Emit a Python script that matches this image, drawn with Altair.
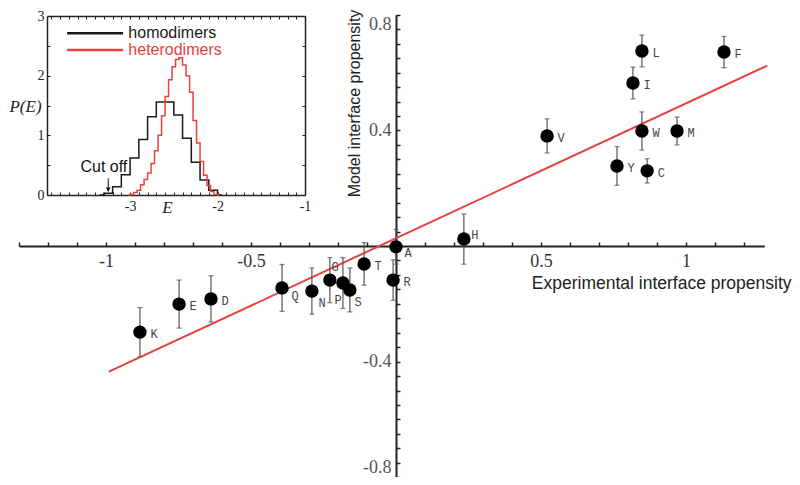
import altair as alt
import pandas as pd

# ---------------- data ----------------
RESIDUES = ["K", "E", "D", "Q", "N", "G", "P", "S", "T", "A",
            "R", "H", "V", "Y", "I", "L", "W", "C", "M", "F"]
EXPERIMENTAL = [-0.883, -0.748, -0.638, -0.393, -0.290, -0.228, -0.183, -0.159, -0.110, 0.000,
                -0.010, 0.234, 0.521, 0.762, 0.817, 0.848, 0.848, 0.866, 0.969, 1.131]
MODEL = [-0.298, -0.201, -0.183, -0.145, -0.156, -0.118, -0.128, -0.152, -0.062, -0.003,
         -0.118, 0.024, 0.381, 0.277, 0.564, 0.675, 0.398, 0.260, 0.398, 0.671]
ERROR = [0.085, 0.083, 0.080, 0.081, 0.080, 0.078, 0.088, 0.076, 0.074, 0.060,
         0.070, 0.087, 0.059, 0.067, 0.055, 0.055, 0.066, 0.042, 0.048, 0.054]

FIT_X = [-0.99, 1.28]
FIT_Y = [-0.435, 0.624]

HOMO_E = [-3.35, -3.25, -3.15, -3.05, -2.95, -2.85, -2.75, -2.65, -2.55, -2.45,
          -2.35, -2.25, -2.15, -2.05, -1.95]
HOMO_P = [0.0, 0.03, 0.14, 0.34, 0.62, 0.93, 1.31, 1.56, 1.56, 1.34,
          0.95, 0.55, 0.25, 0.08, 0.0]

HETERO_E = [-3.02, -2.98, -2.94, -2.90, -2.86, -2.82, -2.78, -2.74, -2.70, -2.66,
            -2.62, -2.58, -2.54, -2.50, -2.46, -2.42, -2.38, -2.34, -2.30, -2.26,
            -2.22, -2.18, -2.14, -2.10, -2.06, -2.02, -1.98]
HETERO_P = [0.0, 0.01, 0.04, 0.08, 0.17, 0.26, 0.37, 0.53, 0.74, 1.00,
            1.33, 1.65, 1.93, 2.15, 2.27, 2.30, 2.18, 2.00, 1.72, 1.25,
            0.87, 0.56, 0.33, 0.16, 0.06, 0.01, 0.0]

SERIES = ["homodimers", "heterodimers"]

MAIN_X_LABELS = [-1, -0.5, 0.5, 1]
MAIN_Y_LABELS = [-0.8, -0.4, 0.4, 0.8]
INSET_X_LABELS = [-3, -2, -1]
INSET_Y_LABELS = [0, 1, 2, 3]

# ---------------- layout / style ----------------
W, H = 784, 469
X0, SX = 388, 290          # view pixel of x = 0 and pixels per unit
Y0, SY = 238, 289
XD = [-1.3, 1.27]
YD = [-0.8, 0.8]
IX0, IX1, IY0, IY1 = 39, 297, 187, 8   # inset frame (view pixels)
XI = [-3.95, -1.0]
YI = [0, 3]

SERIF = "Liberation Serif"
SANS = "Liberation Sans"
MONO = "Liberation Mono"
RED = "#e8413c"
AX = "#222222"

NEG = "datum.value < 0 ? '-' + format(-datum.value, '~g') : format(datum.value, '~g')"

xs = alt.Scale(domain=XD, range=[X0 + SX * XD[0], X0 + SX * XD[1]], nice=False, zero=False)
ys = alt.Scale(domain=YD, range=[Y0 - SY * YD[0], Y0 - SY * YD[1]], nice=False, zero=False)
xis = alt.Scale(domain=XI, range=[IX0, IX1], nice=False, zero=False)
yis = alt.Scale(domain=YI, range=[IY0, IY1], nice=False, zero=False)

x_minor = [round(-1.3 + 0.1 * i, 2) for i in range(26)]
y_minor = [round(-0.8 + 0.05 * i, 2) for i in range(33)]
xi_minor = [round(-3.9 + 0.1 * i, 2) for i in range(30)]
yi_minor = [round(0.5 * i, 2) for i in range(7)]

# ---------------- main plot ----------------
df = pd.DataFrame({"aa": RESIDUES, "exp": EXPERIMENTAL, "model": MODEL, "err": ERROR})
df["lo"] = df["model"] - df["err"]
df["hi"] = df["model"] + df["err"]
fit_df = pd.DataFrame({"fx": FIT_X, "fy": FIT_Y})

x_label_axis = alt.Axis(
    orient="bottom", offset=Y0 - H, values=MAIN_X_LABELS, ticks=False, tickSize=0,
    labelExpr=NEG, labelFont=SERIF, labelFontSize=18, labelColor="#333", labelPadding=6,
    labelFlush=False, labelOverlap=False,
    domain=True, domainColor=AX, domainWidth=2, grid=False,
    title="Experimental interface propensity", titleFont=SANS, titleFontSize=17.5,
    titleFontWeight="normal", titleColor=AX, titleX=783, titleY=42,
    titleAlign="right", titleBaseline="alphabetic")
y_label_axis = alt.Axis(
    orient="left", offset=-X0, values=MAIN_Y_LABELS, ticks=False, tickSize=0,
    labelExpr=NEG, labelFont=SERIF, labelFontSize=18, labelColor="#555", labelPadding=5,
    labelFlush=True, labelFlushOffset=-1, labelOverlap=False,
    domain=True, domainColor=AX, domainWidth=2, grid=False,
    title="Model interface propensity", titleFont=SANS, titleFontSize=16,
    titleFontWeight="normal", titleColor=AX, titleAngle=270, titleX=-37, titleY=95,
    titleAlign="center", titleBaseline="alphabetic")
x_tick_axis = alt.Axis(orient="top", offset=-Y0, values=x_minor, labels=False,
                       tickSize=4, tickWidth=1.5, tickColor=AX, domain=False, grid=False, title=None)
y_tick_axis = alt.Axis(orient="right", offset=X0 - W, values=y_minor, labels=False,
                       tickSize=4, tickWidth=1.5, tickColor=AX, domain=False, grid=False, title=None)

fit = alt.Chart(fit_df).mark_line(color=RED, strokeWidth=2).encode(
    x=alt.X("fx:Q", scale=xs, axis=x_label_axis),
    y=alt.Y("fy:Q", scale=ys, axis=y_label_axis))

base = alt.Chart(df)
err_rule = base.mark_rule(color="#555", strokeWidth=1.2).encode(
    x=alt.X("exp:Q", scale=xs, axis=None),
    y=alt.Y("lo:Q", scale=ys, axis=None), y2="hi:Q")
cap_lo = base.mark_tick(orient="horizontal", size=5, thickness=1.3, color="#555").encode(
    x=alt.X("exp:Q", scale=xs, axis=None), y=alt.Y("lo:Q", scale=ys, axis=None))
cap_hi = base.mark_tick(orient="horizontal", size=5, thickness=1.3, color="#555").encode(
    x=alt.X("exp:Q", scale=xs, axis=None), y=alt.Y("hi:Q", scale=ys, axis=None))
points = base.mark_circle(size=180, color="black", opacity=1).encode(
    x=alt.X("exp:Q", scale=xs, axis=x_tick_axis),
    y=alt.Y("model:Q", scale=ys, axis=y_tick_axis))

# label nudges (pixels)
NUDGE = {"G": (1.5, -13), "P": (-8.5, 17), "S": (4.5, 12), "N": (6.5, 12),
         "Q": (9.5, 8), "A": (8.5, 6), "H": (7.5, -4)}
DEFAULT = (10.5, 2)
groups = {}
for aa in RESIDUES:
    groups.setdefault(NUDGE.get(aa, DEFAULT), []).append(aa)
labels = []
for (dx, dy), members in groups.items():
    labels.append(
        base.transform_filter(alt.FieldOneOfPredicate(field="aa", oneOf=members))
        .mark_text(align="left", baseline="middle", dx=dx, dy=dy, font=MONO,
                   fontSize=12, color="#444")
        .encode(x=alt.X("exp:Q", scale=xs, axis=None),
                y=alt.Y("model:Q", scale=ys, axis=None), text="aa:N"))

main = alt.layer(fit, err_rule, cap_lo, cap_hi, points, *labels).resolve_axis(
    x="independent", y="independent")

# ---------------- inset ----------------
hist_df = pd.concat([
    pd.DataFrame({"E": HOMO_E, "P": HOMO_P, "series": SERIES[0], "order": range(len(HOMO_E))}),
    pd.DataFrame({"E": HETERO_E, "P": HETERO_P, "series": SERIES[1], "order": range(len(HETERO_E))}),
])
color = alt.Color("series:N", scale=alt.Scale(domain=SERIES, range=["#1a1a1a", RED]), legend=None)

xi_label_axis = alt.Axis(
    orient="bottom", offset=IY0 - H, values=INSET_X_LABELS, ticks=False, tickSize=0,
    labelExpr=NEG, labelFont=SERIF, labelFontSize=14, labelColor="#222", labelPadding=4,
    labelFlush=False, domain=True, domainColor=AX, domainWidth=1.5, grid=False,
    title="E", titleFont=SERIF, titleFontStyle="italic", titleFontSize=17,
    titleFontWeight="normal", titleColor=AX, titleX=159, titleY=12,
    titleAlign="center", titleBaseline="middle")
yi_label_axis = alt.Axis(
    orient="left", offset=-IX0, values=INSET_Y_LABELS, ticks=False, tickSize=0,
    labelFont=SERIF, labelFontSize=14, labelColor="#222", labelPadding=3,
    labelFlush=False, domain=True, domainColor=AX, domainWidth=1.5, grid=False,
    title="P(E)", titleFont=SERIF, titleFontStyle="italic", titleFontSize=17,
    titleFontWeight="normal", titleColor=AX, titleAngle=0, titleX=-22, titleY=98,
    titleAlign="center", titleBaseline="middle")
xi_tick_bottom = alt.Axis(orient="top", offset=-IY0, values=xi_minor, labels=False,
                          tickSize=3, tickWidth=1, tickColor=AX, domain=False, grid=False, title=None)
yi_tick_left = alt.Axis(orient="right", offset=IX0 - W, values=yi_minor, labels=False,
                        tickSize=3, tickWidth=1, tickColor=AX, domain=False, grid=False, title=None)
xi_tick_top = alt.Axis(orient="bottom", offset=IY1 - H, values=xi_minor, labels=False,
                       tickSize=3, tickWidth=1, tickColor=AX, domain=True, domainColor=AX,
                       domainWidth=1.5, grid=False, title=None)
yi_tick_right = alt.Axis(orient="left", offset=-IX1, values=yi_minor, labels=False,
                         tickSize=3, tickWidth=1, tickColor=AX, domain=True, domainColor=AX,
                         domainWidth=1.5, grid=False, title=None)

hist = alt.Chart(hist_df).mark_line(interpolate="step", strokeWidth=1.5).encode(
    x=alt.X("E:Q", scale=xis, axis=xi_label_axis),
    y=alt.Y("P:Q", scale=yis, axis=yi_label_axis),
    color=color, order="order:Q")

legend_df = pd.DataFrame({"series": SERIES, "e1": [-3.72, -3.72], "e2": [-3.08, -3.08],
                          "p": [2.71, 2.43], "et": [-3.02, -3.02]})
leg_rule = alt.Chart(legend_df).mark_rule(strokeWidth=2.5).encode(
    x=alt.X("e1:Q", scale=xis, axis=xi_tick_bottom), x2="e2:Q",
    y=alt.Y("p:Q", scale=yis, axis=yi_tick_left), color=color)
leg_text = alt.Chart(legend_df).mark_text(align="left", baseline="middle", font=SANS,
                                          fontSize=16).encode(
    x=alt.X("et:Q", scale=xis, axis=xi_tick_top),
    y=alt.Y("p:Q", scale=yis, axis=yi_tick_right),
    text="series:N", color=color)

cut_df = pd.DataFrame({"label": ["Cut off"], "et": [-3.30], "pt": [0.47],
                       "ea": [-3.25], "p1": [0.28], "p2": [0.06], "ph": [0.09]})
cut_text = alt.Chart(cut_df).mark_text(font=SANS, fontSize=16, color="#111",
                                       baseline="middle").encode(
    x=alt.X("et:Q", scale=xis, axis=None), y=alt.Y("pt:Q", scale=yis, axis=None), text="label:N")
cut_rule = alt.Chart(cut_df).mark_rule(color="#111", strokeWidth=1).encode(
    x=alt.X("ea:Q", scale=xis, axis=None), y=alt.Y("p1:Q", scale=yis, axis=None), y2="p2:Q")
cut_head = alt.Chart(cut_df).mark_point(shape="triangle-down", filled=True, size=22,
                                        color="#111", opacity=1).encode(
    x=alt.X("ea:Q", scale=xis, axis=None), y=alt.Y("ph:Q", scale=yis, axis=None))

inset = alt.layer(hist, leg_rule, leg_text, cut_text, cut_rule, cut_head).resolve_axis(
    x="independent", y="independent")

chart = (
    alt.layer(main, inset)
    .resolve_scale(x="independent", y="independent")
    .properties(width=W, height=H, padding=0, autosize=alt.AutoSizeParams(type="none"),
                background="white")
    .configure_view(stroke=None)
)

chart.save("out.html", embed_options={"renderer": "svg", "actions": False})
